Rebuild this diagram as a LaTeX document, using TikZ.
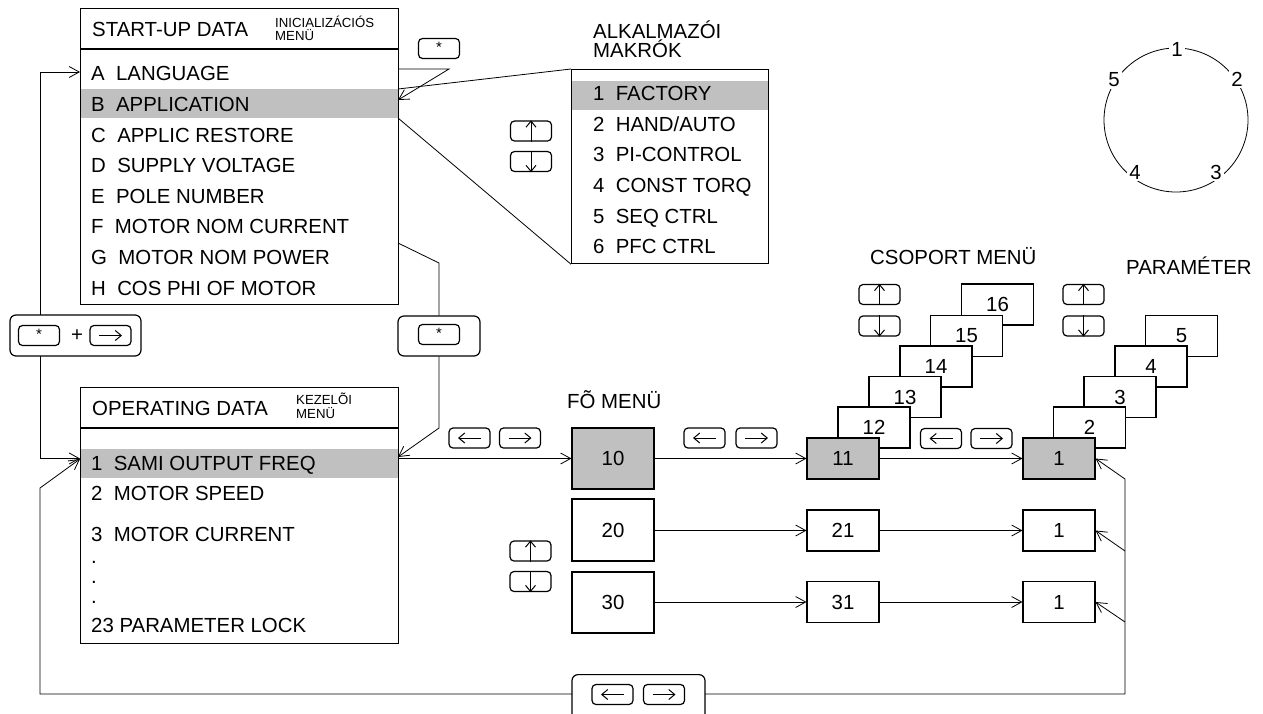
\documentclass[tikz,border=0pt]{standalone}
\usepackage{fontspec}
\setmainfont{Liberation Sans}
\usetikzlibrary{arrows.meta}
\definecolor{hlgray}{RGB}{192,192,192}
\newcommand\kleft[2]{\node[keybox] (#1) at (#2) {};\draw[keyarr] ([xshift=11.5pt]#1.center) -- ([xshift=-11.5pt]#1.center);}
\newcommand\kright[2]{\node[keybox] (#1) at (#2) {};\draw[keyarr] ([xshift=-11.5pt]#1.center) -- ([xshift=11.5pt]#1.center);}
\newcommand\kup[2]{\node[keybox] (#1) at (#2) {};\draw[keyarr] (#1.south) -- (#1.north);}
\newcommand\kdown[2]{\node[keybox] (#1) at (#2) {};\draw[keyarr] (#1.north) -- (#1.south);}
\newcommand\kstar[2]{\node[keybox,font=\fontsize{15}{15}\selectfont] (#1) at (#2) {\raisebox{2pt}{*}};}
\begin{document}
\begin{tikzpicture}[x=1pt,y=-1pt,
  font=\fontsize{20.4}{22}\selectfont,
  box/.style={draw, line width=1.2pt},
  numbox/.style={draw, line width=1.1pt, minimum width=72pt, minimum height=41pt, inner sep=0pt, fill=white},
  bigbox/.style={draw, line width=1.1pt, minimum width=82pt, minimum height=61pt, inner sep=0pt, fill=white},
  txt/.style={anchor=base west, inner sep=0pt},
  small/.style={anchor=base west, inner sep=0pt, font=\fontsize{13.2}{14}\selectfont},
  conn/.style={line width=0.8pt},
  arr/.style={line width=0.8pt, -{Straight Barb[length=10pt,width=11pt,line width=0.8pt]}},
  keybox/.style={draw, rounded corners=4pt, line width=1.2pt, minimum width=41pt, minimum height=20pt, inner sep=0pt},
  frame/.style={draw, rounded corners=6pt, line width=1.2pt, inner sep=0pt, fill=white},
  keyarr/.style={line width=1pt, -{Straight Barb[length=6pt,width=10pt,line width=1pt]}},
  lab/.style={fill=white, inner sep=2pt}
]
\clip (0,0) rectangle (1263,713);
\fill[white] (0,0) rectangle (1263,713);

% ---------- START-UP DATA box ----------
\fill[hlgray] (80,89) rectangle (398,118);
\node[box, minimum width=318pt, minimum height=296pt, anchor=north west, inner sep=0pt] (su) at (80,8) {};
\draw[line width=1.2pt] (80,49) -- (398,49);
\node[txt] (suh) at (92,36) {START-UP DATA};
\node[small] (suh1) at (275,27) {INICIALIZÁCIÓS};
\node[small] (suh2) at (275,40) {MENÜ};
\node[txt] (sa) at (91,80) {A\ \ LANGUAGE};
\node[txt] (sb) at (91,111) {B\ \ APPLICATION};
\node[txt] (sc) at (91,142) {C\ \ APPLIC RESTORE};
\node[txt] (sd) at (91,172) {D\ \ SUPPLY VOLTAGE};
\node[txt] (se) at (91,203) {E\ \ POLE NUMBER};
\node[txt] (sf) at (91,233) {F\ \ MOTOR NOM CURRENT};
\node[txt] (sg) at (91,264) {G\ \ MOTOR NOM POWER};
\node[txt] (sh) at (91,295) {H\ \ COS PHI OF MOTOR};

% ---------- ALKALMAZOI MAKROK box ----------
\node[txt] (mt1) at (593,38) {ALKALMAZÓI};
\node[txt] (mt2) at (593,57) {MAKRÓK};
\fill[hlgray] (571,81) rectangle (768,110);
\node[box, minimum width=197pt, minimum height=194pt, anchor=north west, inner sep=0pt] (mk) at (571,69) {};
\node[txt] (m1) at (593,100) {1\ \ FACTORY};
\node[txt] (m2) at (593,131) {2\ \ HAND/AUTO};
\node[txt] (m3) at (593,161) {3\ \ PI-CONTROL};
\node[txt] (m4) at (593,192) {4\ \ CONST TORQ};
\node[txt] (m5) at (593,223) {5\ \ SEQ CTRL};
\node[txt] (m6) at (593,253) {6\ \ PFC CTRL};
\kup{mku}{531,131}
\kdown{mkd}{531,161.5}

% star key and zigzag arrow
\kstar{stk}{439,48.5}
\coordinate (z0) at (398,69);
\coordinate (z1) at (449,69);
\coordinate (z2) at (398,100);
\draw[arr] (z0) -- (z1) -- (z2);
\coordinate (b0) at (398,89);
\coordinate (b1) at (398,118);
\draw[conn] (b0) -- (mk.north west);
\draw[conn] (b1) -- (mk.south west);

% ---------- OPERATING DATA box ----------
\fill[hlgray] (80,449) rectangle (398,478);
\node[box, minimum width=318pt, minimum height=256pt, anchor=north west, inner sep=0pt] (op) at (80,387) {};
\draw[line width=1.2pt] (80,428) -- (398,428);
\node[txt] (oph) at (92,415) {OPERATING DATA};
\node[small] (oph1) at (296,404) {KEZELÕI};
\node[small] (oph2) at (296,418) {MENÜ};
\node[txt] (o1) at (91,470) {1\ \ SAMI OUTPUT FREQ};
\node[txt] (o2) at (91,500) {2\ \ MOTOR SPEED};
\node[txt] (o3) at (91,541) {3\ \ MOTOR CURRENT};
\node[txt] (od1) at (91,563) {.};
\node[txt] (od2) at (91,583) {.};
\node[txt] (od3) at (91,603) {.};
\node[txt] (o23) at (91,632) {23 PARAMETER LOCK};

% ---------- left "* + ->" frame ----------
\node[frame, minimum width=131pt, minimum height=41pt] (kp) at (75.5,335.5) {};
\kstar{kps}{39,335.5}
\node[inner sep=0pt] (kpplus) at (77,335.5) {+};
\kright{kpr}{110.5,335.5}
\coordinate (kpT) at (40,315);
\coordinate (kpB) at (40,356);
\coordinate (l1) at (40,72);
\coordinate (aIn) at (80,72);
\coordinate (l2) at (40,458.5);
\coordinate (oIn) at (80,458.5);
\draw[arr] (kpT) -- (l1) -- (aIn);
\draw[arr] (kpB) -- (l2) -- (oIn);

% ---------- right "*" frame ----------
\node[frame, minimum width=82pt, minimum height=40pt] (gf) at (439,336) {};
\kstar{gfs}{439,334.5}
\coordinate (g0) at (398,243);
\coordinate (g1) at (439,263);
\coordinate (g2) at (439,428);
\coordinate (g3) at (398,457);
\draw[conn] (g0) -- (g1) -- (gf.north);
\draw[arr] (gf.south) -- (g2) -- (g3);

% ---------- main menu ----------
\node[txt] (fo) at (567,408) {FÕ MENÜ};
\node[bigbox, fill=hlgray] (n10) at (613,458.5) {10};
\node[bigbox, minimum height=62pt] (n20) at (613,530) {20};
\node[bigbox] (n30) at (613,602.5) {30};
\kleft{k1l}{469.5,438}
\kright{k1r}{520,438}
\kup{k3u}{530.5,551}
\kdown{k3d}{530.5,581.5}
\coordinate (oOut) at (398,458.5);
\draw[arr] (oOut) -- (n10.west);

% ---------- group menu ----------
\node[txt] (cs) at (870,264) {CSOPORT MENÜ};
\kup{k4u}{879.5,294.5}
\kdown{k4d}{879.5,326}
\node[numbox] (n16) at (997.5,304.5) {16};
\node[numbox] (n15) at (966.5,336) {15};
\node[numbox] (n14) at (936,366.5) {14};
\node[numbox] (n13) at (905,397) {13};
\node[numbox] (n12) at (874,427.5) {12};
\node[numbox, fill=hlgray] (n11) at (843,458.5) {11};
\node[numbox] (n21) at (843,530.5) {21};
\node[numbox] (n31) at (843,602) {31};
\kleft{k2l}{704.5,438}
\kright{k2r}{756.5,438}
\draw[arr] (n10.east |- n11.west) -- (n11.west);
\draw[arr] (n20.east |- n21.west) -- (n21.west);
\draw[arr] (n30.east |- n31.west) -- (n31.west);

% ---------- parameters ----------
\node[txt] (pa) at (1126,274) {PARAMÉTER};
\kup{k5u}{1083.5,294.5}
\kdown{k5d}{1083.5,326}
\node[numbox] (p5) at (1181.5,336) {5};
\node[numbox] (p4) at (1151,366.5) {4};
\node[numbox] (p3) at (1120,397) {3};
\node[numbox] (p2) at (1089.5,427.5) {2};
\node[numbox, fill=hlgray] (q1) at (1059,458.5) {1};
\node[numbox] (q2) at (1059,530.5) {1};
\node[numbox] (q3) at (1059,602) {1};
\kleft{k6l}{941,438.5}
\kright{k6r}{991.5,438.5}
\draw[arr] (n11) -- (q1);
\draw[arr] (n21) -- (q2);
\draw[arr] (n31) -- (q3);

% ---------- bottom loop ----------
\node[frame, minimum width=133pt, minimum height=70pt, anchor=north] (bf) at (638.5,674) {};
\kleft{bfl}{612.5,694.5}
\kright{bfr}{664,694.5}
\coordinate (bfW) at (572,694);
\coordinate (bfE) at (705,694);
\coordinate (r0) at (1125,694);
\coordinate (r1) at (1125,479);
\coordinate (r2) at (1125,551);
\coordinate (r3) at (1125,622);
\coordinate (x0) at (40,694);
\coordinate (x1) at (40,488);
\coordinate (x2) at (80,459);
\draw[arr] (bfE) -- (r0) -- (r1) -- (q1.east);
\draw[arr] (r2) -- (q2.east);
\draw[arr] (r3) -- (q3.east);
\draw[arr] (bfW) -- (x0) -- (x1) -- (x2);

% ---------- circle ----------
\draw[line width=0.8pt] (1176,120) circle[radius=72pt];
\node[lab] (c1) at (1177,49) {1};
\node[lab] (c2) at (1237,79) {2};
\node[lab] (c3) at (1216,172) {3};
\node[lab] (c4) at (1135,172) {4};
\node[lab] (c5) at (1114,80) {5};
\end{tikzpicture}
\end{document}
